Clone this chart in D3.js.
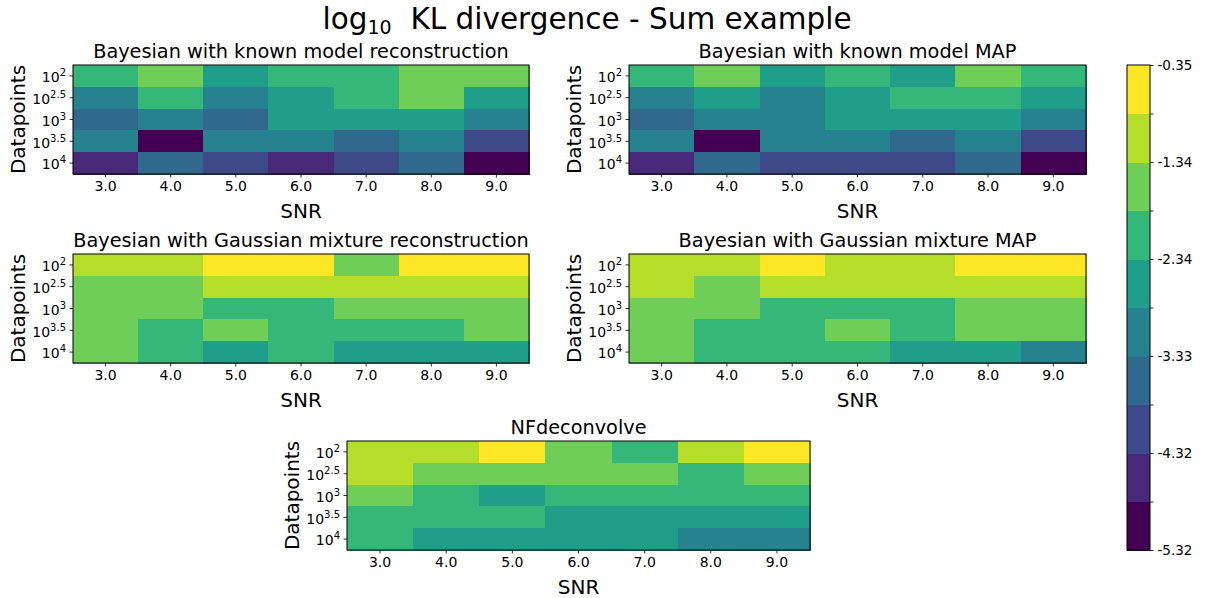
<!DOCTYPE html>
<html>
<head>
<meta charset="utf-8">
<script src="https://cdn.jsdelivr.net/npm/d3@7"></script>
<style>
  body { margin: 0; background: #fff; }
  svg { display: block; font-family: "DejaVu Sans", sans-serif; }
  .axis path, .axis line { stroke: #000; stroke-width: 0.8; }
  .axis text { fill: #000; font-size: 14px; font-family: "DejaVu Sans", sans-serif; }
</style>
</head>
<body>
<div id="chart"></div>
<script>
// Data: log10 KL divergence, rows = datapoints, columns = SNR
var snrValues = [3.0, 4.0, 5.0, 6.0, 7.0, 8.0, 9.0];
var datapointExps = ["2", "2.5", "3", "3.5", "4"];

var knownRecon = [
  [-2.05, -1.62, -2.51, -2.18, -1.98, -1.55, -1.70],
  [-3.02, -2.12, -3.15, -2.60, -1.95, -1.49, -2.47],
  [-3.61, -3.21, -3.50, -2.44, -2.52, -2.70, -2.98],
  [-3.10, -5.317, -3.05, -2.96, -3.42, -3.18, -3.95],
  [-4.55, -3.63, -4.01, -4.70, -4.12, -3.55, -5.18]
];
var knownMap = [
  [-2.11, -1.58, -2.55, -2.20, -2.49, -1.66, -2.02],
  [-3.09, -2.66, -3.01, -2.42, -1.99, -2.14, -2.61],
  [-3.48, -3.12, -2.99, -2.57, -2.45, -2.68, -3.20],
  [-2.93, -5.25, -3.14, -3.00, -3.66, -3.04, -4.05],
  [-4.48, -3.52, -3.94, -4.15, -4.02, -3.40, -5.10]
];
var gmRecon = [
  [-1.08, -1.21, -0.348, -0.52, -1.70, -0.48, -0.66],
  [-1.52, -1.66, -1.15, -0.98, -1.04, -1.19, -1.27],
  [-1.72, -1.61, -2.03, -2.15, -1.48, -1.57, -1.77],
  [-1.80, -2.22, -1.75, -1.96, -2.08, -2.26, -1.69],
  [-1.63, -1.93, -2.48, -2.19, -2.63, -2.55, -2.71]
];
var gmMap = [
  [-1.12, -1.26, -0.71, -1.02, -0.95, -0.58, -0.44],
  [-1.30, -1.69, -1.08, -1.17, -0.99, -1.23, -1.14],
  [-1.55, -1.74, -2.06, -2.24, -1.90, -1.64, -1.59],
  [-1.67, -2.17, -2.01, -1.78, -2.12, -1.71, -1.60],
  [-1.76, -1.88, -2.10, -2.28, -2.53, -2.74, -3.07]
];
var nfDeconv = [
  [-1.00, -1.18, -0.69, -1.54, -2.00, -1.11, -0.55],
  [-1.31, -1.62, -1.73, -1.58, -1.66, -2.07, -1.77],
  [-1.81, -2.11, -2.46, -2.20, -1.97, -2.04, -2.18],
  [-1.92, -2.25, -2.13, -2.58, -2.67, -2.50, -2.62],
  [-2.02, -2.39, -2.72, -2.44, -2.77, -3.01, -2.95]
];

var nLevels = 10;

// Layout
var W = 1205, H = 598;
var panels = [
  { title: "Bayesian with known model reconstruction", data: knownRecon, x: 73, y: 65, w: 456, h: 109 },
  { title: "Bayesian with known model MAP", data: knownMap, x: 629, y: 65, w: 457, h: 109 },
  { title: "Bayesian with Gaussian mixture reconstruction", data: gmRecon, x: 73, y: 254, w: 456, h: 109 },
  { title: "Bayesian with Gaussian mixture MAP", data: gmMap, x: 629, y: 254, w: 457, h: 109 },
  { title: "NFdeconvolve", data: nfDeconv, x: 347, y: 441, w: 463, h: 109 }
];
var cbar = { x: 1127, y: 65, w: 23, h: 485 };

var svg = d3.select("#chart").append("svg")
  .attr("width", W)
  .attr("height", H);

// Colour scale: discrete viridis, spanning all values
var allVals = d3.merge(panels.map(p => d3.merge(p.data)));
var extent = d3.extent(allVals);
var colors = d3.quantize(d3.interpolateViridis, nLevels);
var color = d3.scaleQuantize().domain(extent).range(colors);

// Suptitle
var sup = svg.append("text")
  .attr("x", 587)
  .attr("y", 29)
  .attr("text-anchor", "middle")
  .attr("font-size", 29.5)
  .attr("fill", "#000");
sup.append("tspan").text("log");
sup.append("tspan").attr("font-size", 19).attr("dy", 5).text("10");
sup.append("tspan").attr("dy", -5).text("\u00a0 KL divergence - Sum example");

panels.forEach(function(p) {
  var g = svg.append("g").attr("transform", "translate(" + p.x + "," + p.y + ")");

  var xScale = d3.scaleBand().domain(snrValues).range([0, p.w]);
  var yScale = d3.scaleBand().domain(datapointExps).range([0, p.h]);

  var cells = [];
  p.data.forEach(function(row, i) {
    row.forEach(function(v, j) {
      cells.push({ snr: snrValues[j], exp: datapointExps[i], value: v });
    });
  });

  g.append("g")
    .selectAll("rect")
    .data(cells)
    .enter()
    .append("rect")
    .attr("x", d => xScale(d.snr))
    .attr("y", d => yScale(d.exp))
    .attr("width", xScale.bandwidth() + 0.5)
    .attr("height", yScale.bandwidth() + 0.5)
    .attr("fill", d => color(d.value))
    .attr("shape-rendering", "crispEdges");

  // x axis
  var xAxis = d3.axisBottom(xScale)
    .tickSize(3.5)
    .tickPadding(4)
    .tickFormat(d3.format(".1f"));
  var gx = g.append("g")
    .attr("class", "axis")
    .attr("transform", "translate(0," + p.h + ")")
    .call(xAxis);
  gx.select(".domain").remove();

  // y axis with superscript tick labels
  var yAxis = d3.axisLeft(yScale).tickSize(3.5).tickPadding(4).tickFormat("");
  var gy = g.append("g").attr("class", "axis").call(yAxis);
  gy.select(".domain").remove();
  gy.selectAll(".tick").each(function(d) {
    var t = d3.select(this).append("text")
      .attr("x", -7)
      .attr("dy", "0.45em")
      .attr("text-anchor", "end")
      .style("font-size", "14px");
    t.append("tspan").text("10");
    t.append("tspan").attr("dy", "-0.6em").style("font-size", "10px").text(d);
  });

  // frame
  g.append("rect")
    .attr("width", p.w)
    .attr("height", p.h)
    .attr("fill", "none")
    .attr("stroke", "#000")
    .attr("stroke-width", 1);

  // title and labels
  g.append("text")
    .attr("x", p.w / 2)
    .attr("y", -7)
    .attr("text-anchor", "middle")
    .attr("font-size", 19.3)
    .text(p.title);

  g.append("text")
    .attr("x", p.w / 2)
    .attr("y", p.h + 44)
    .attr("text-anchor", "middle")
    .attr("font-size", 20)
    .text("SNR");

  g.append("text")
    .attr("transform", "translate(-48," + p.h / 2 + ") rotate(-90)")
    .attr("text-anchor", "middle")
    .attr("font-size", 20)
    .text("Datapoints");
});

// Colour bar
var step = (extent[1] - extent[0]) / nLevels;
var bounds = d3.range(nLevels + 1).map(i => extent[0] + i * step);
var cScale = d3.scaleLinear().domain(extent).range([cbar.h, 0]);

var cb = svg.append("g").attr("transform", "translate(" + cbar.x + "," + cbar.y + ")");
cb.selectAll("rect")
  .data(d3.range(nLevels))
  .enter()
  .append("rect")
  .attr("x", 0)
  .attr("y", i => cScale(bounds[i + 1]))
  .attr("width", cbar.w)
  .attr("height", i => cScale(bounds[i]) - cScale(bounds[i + 1]) + 0.5)
  .attr("fill", i => colors[i])
  .attr("shape-rendering", "crispEdges");

var cAxis = d3.axisRight(cScale)
  .tickValues(bounds)
  .tickSize(3.5)
  .tickPadding(4)
  .tickFormat((d, i) => (i % 2 === 0 ? d.toFixed(2) : ""));
var gc = cb.append("g")
  .attr("class", "axis")
  .attr("transform", "translate(" + cbar.w + ",0)")
  .call(cAxis);
gc.select(".domain").remove();
gc.selectAll("text").style("font-size", "13.5px");

cb.append("rect")
  .attr("width", cbar.w)
  .attr("height", cbar.h)
  .attr("fill", "none")
  .attr("stroke", "#000")
  .attr("stroke-width", 1);
</script>
</body>
</html>
